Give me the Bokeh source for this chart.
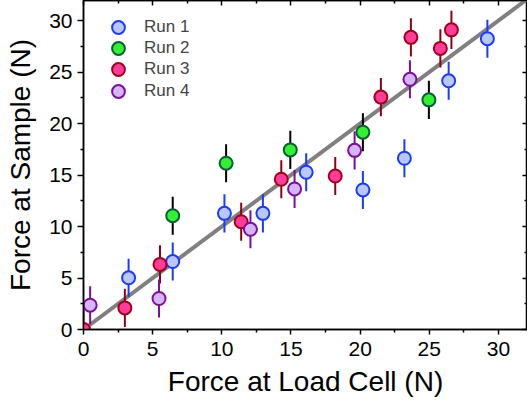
from bokeh.plotting import figure
from bokeh.models import Range1d, LinearAxis, Legend, LegendItem, FixedTicker
from bokeh.embed import file_html
from bokeh.resources import INLINE

# ---- data ----
run1_x = [3.26, 6.45, 10.19, 12.97, 16.1, 20.2, 23.2, 26.4, 29.2]
run1_y = [5.02, 6.6, 11.28, 11.28, 15.27, 13.55, 16.63, 24.15, 28.24]
run1_err = [1.85] * 9

run2_x = [6.45, 10.31, 14.95, 20.2, 24.97]
run2_y = [11.05, 16.15, 17.44, 19.16, 22.3]
run2_err = [1.85] * 5

run3_x = [0.0, 2.99, 5.53, 11.4, 14.3, 18.2, 21.5, 23.67, 25.8, 26.6]
run3_y = [0.0, 2.1, 6.32, 10.47, 14.59, 14.9, 22.57, 28.37, 27.3, 29.1]
run3_err = [1.85] * 10

run4_x = [0.48, 5.46, 12.07, 15.26, 19.6, 23.6]
run4_y = [2.36, 3.01, 9.73, 13.65, 17.4, 24.3]
run4_err = [1.85] * 6

fit_x = [0, 33]
fit_y = [0, 33]

x_ticks = [0, 5, 10, 15, 20, 25, 30]
y_ticks = [0, 5, 10, 15, 20, 25, 30]
minor_ticks = [2.5, 7.5, 12.5, 17.5, 22.5, 27.5]

runs = [
    ("Run 1", run1_x, run1_y, run1_err, "#b9c7fb", "#1b3cf5", "#1b3cf5"),
    ("Run 2", run2_x, run2_y, run2_err, "#33f033", "#0a5e34", "#000000"),
    ("Run 3", run3_x, run3_y, run3_err, "#ff3d98", "#a0001c", "#8f0010"),
    ("Run 4", run4_x, run4_y, run4_err, "#d7b3f7", "#7b0f98", "#7b0f98"),
]

FONT = "Liberation Sans"
W, H = 527, 404
BORDER_L, BORDER_B, BORDER_T = 83, 75, 0

p = figure(width=W, height=H, output_backend="svg", toolbar_location=None,
           x_range=Range1d(0, 32.1), y_range=Range1d(0, 31.95),
           min_border_left=BORDER_L, min_border_right=0, min_border_top=BORDER_T,
           min_border_bottom=BORDER_B)
p.grid.visible = False
p.outline_line_color = "black"
p.outline_line_width = 1.5

# fit line
p.line(fit_x, fit_y, line_color="#808080", line_width=4)

renderers = []
for name, xs, ys, errs, fill, edge, ecol in runs:
    p.segment(x0=xs, y0=[y - e for y, e in zip(ys, errs)], x1=xs,
              y1=[y + e for y, e in zip(ys, errs)], line_color=ecol, line_width=2)
for name, xs, ys, errs, fill, edge, ecol in runs:
    r = p.scatter(xs, ys, size=13, fill_color=fill, line_color=edge, line_width=2)
    renderers.append((name, r))

# legend: one single-entry legend per run so the markers can be full size
frame_h = H - BORDER_B - BORDER_T
GLYPH = 32
first_center, step = 26.7, 21.3
for i, (name, r) in enumerate(renderers):
    center = first_center + i * step
    lg = Legend(items=[LegendItem(label=name, renderers=[r])],
                location=(19, frame_h - center - GLYPH / 2), padding=0, spacing=0, margin=0,
                glyph_height=GLYPH, glyph_width=GLYPH, label_height=21, label_standoff=10,
                label_text_font=FONT, label_text_font_size="17px",
                border_line_color=None, background_fill_alpha=0)
    p.add_layout(lg, "center")

def style_axis(ax, out_ticks=True):
    ax.axis_line_width = 1.5
    ax.major_tick_line_width = 1.5
    ax.minor_tick_line_width = 1.5
    if out_ticks:
        ax.major_tick_out = 6
        ax.major_tick_in = 0
        ax.minor_tick_out = 3
        ax.minor_tick_in = 0
    else:
        ax.major_tick_out = 0
        ax.major_tick_in = 5
        ax.minor_tick_out = 0
        ax.minor_tick_in = 3

p.xaxis.ticker = FixedTicker(ticks=x_ticks, minor_ticks=minor_ticks)
p.yaxis.ticker = FixedTicker(ticks=y_ticks, minor_ticks=minor_ticks)
style_axis(p.xaxis[0])
style_axis(p.yaxis[0])
p.xaxis.major_tick_out = 5
for ax in (p.xaxis[0], p.yaxis[0]):
    ax.major_label_text_font = FONT
    ax.major_label_text_font_size = "21px"
    ax.major_label_text_color = "black"
    ax.axis_label_text_font = FONT
    ax.axis_label_text_font_size = "28px"
    ax.axis_label_text_font_style = "normal"
    ax.axis_label_text_color = "black"
    ax.major_label_standoff = 5
p.xaxis.major_label_standoff = 7
p.xaxis.axis_label = "Force at Load Cell (N)"
p.yaxis.axis_label = "Force at Sample (N)"
p.xaxis.axis_label_standoff = 7
p.yaxis.axis_label_standoff = 10

top = LinearAxis(ticker=FixedTicker(ticks=x_ticks, minor_ticks=minor_ticks),
                 major_label_text_color=None, major_label_text_font_size="0px",
                 major_label_standoff=0, axis_label_standoff=0)
right = LinearAxis(ticker=FixedTicker(ticks=y_ticks, minor_ticks=minor_ticks),
                   major_label_text_color=None, major_label_text_font_size="0px",
                   major_label_standoff=0, axis_label_standoff=0)
style_axis(top, out_ticks=False)
style_axis(right, out_ticks=False)
p.add_layout(top, "above")
p.add_layout(right, "right")

open("out.html", "w").write(file_html(p, INLINE))
